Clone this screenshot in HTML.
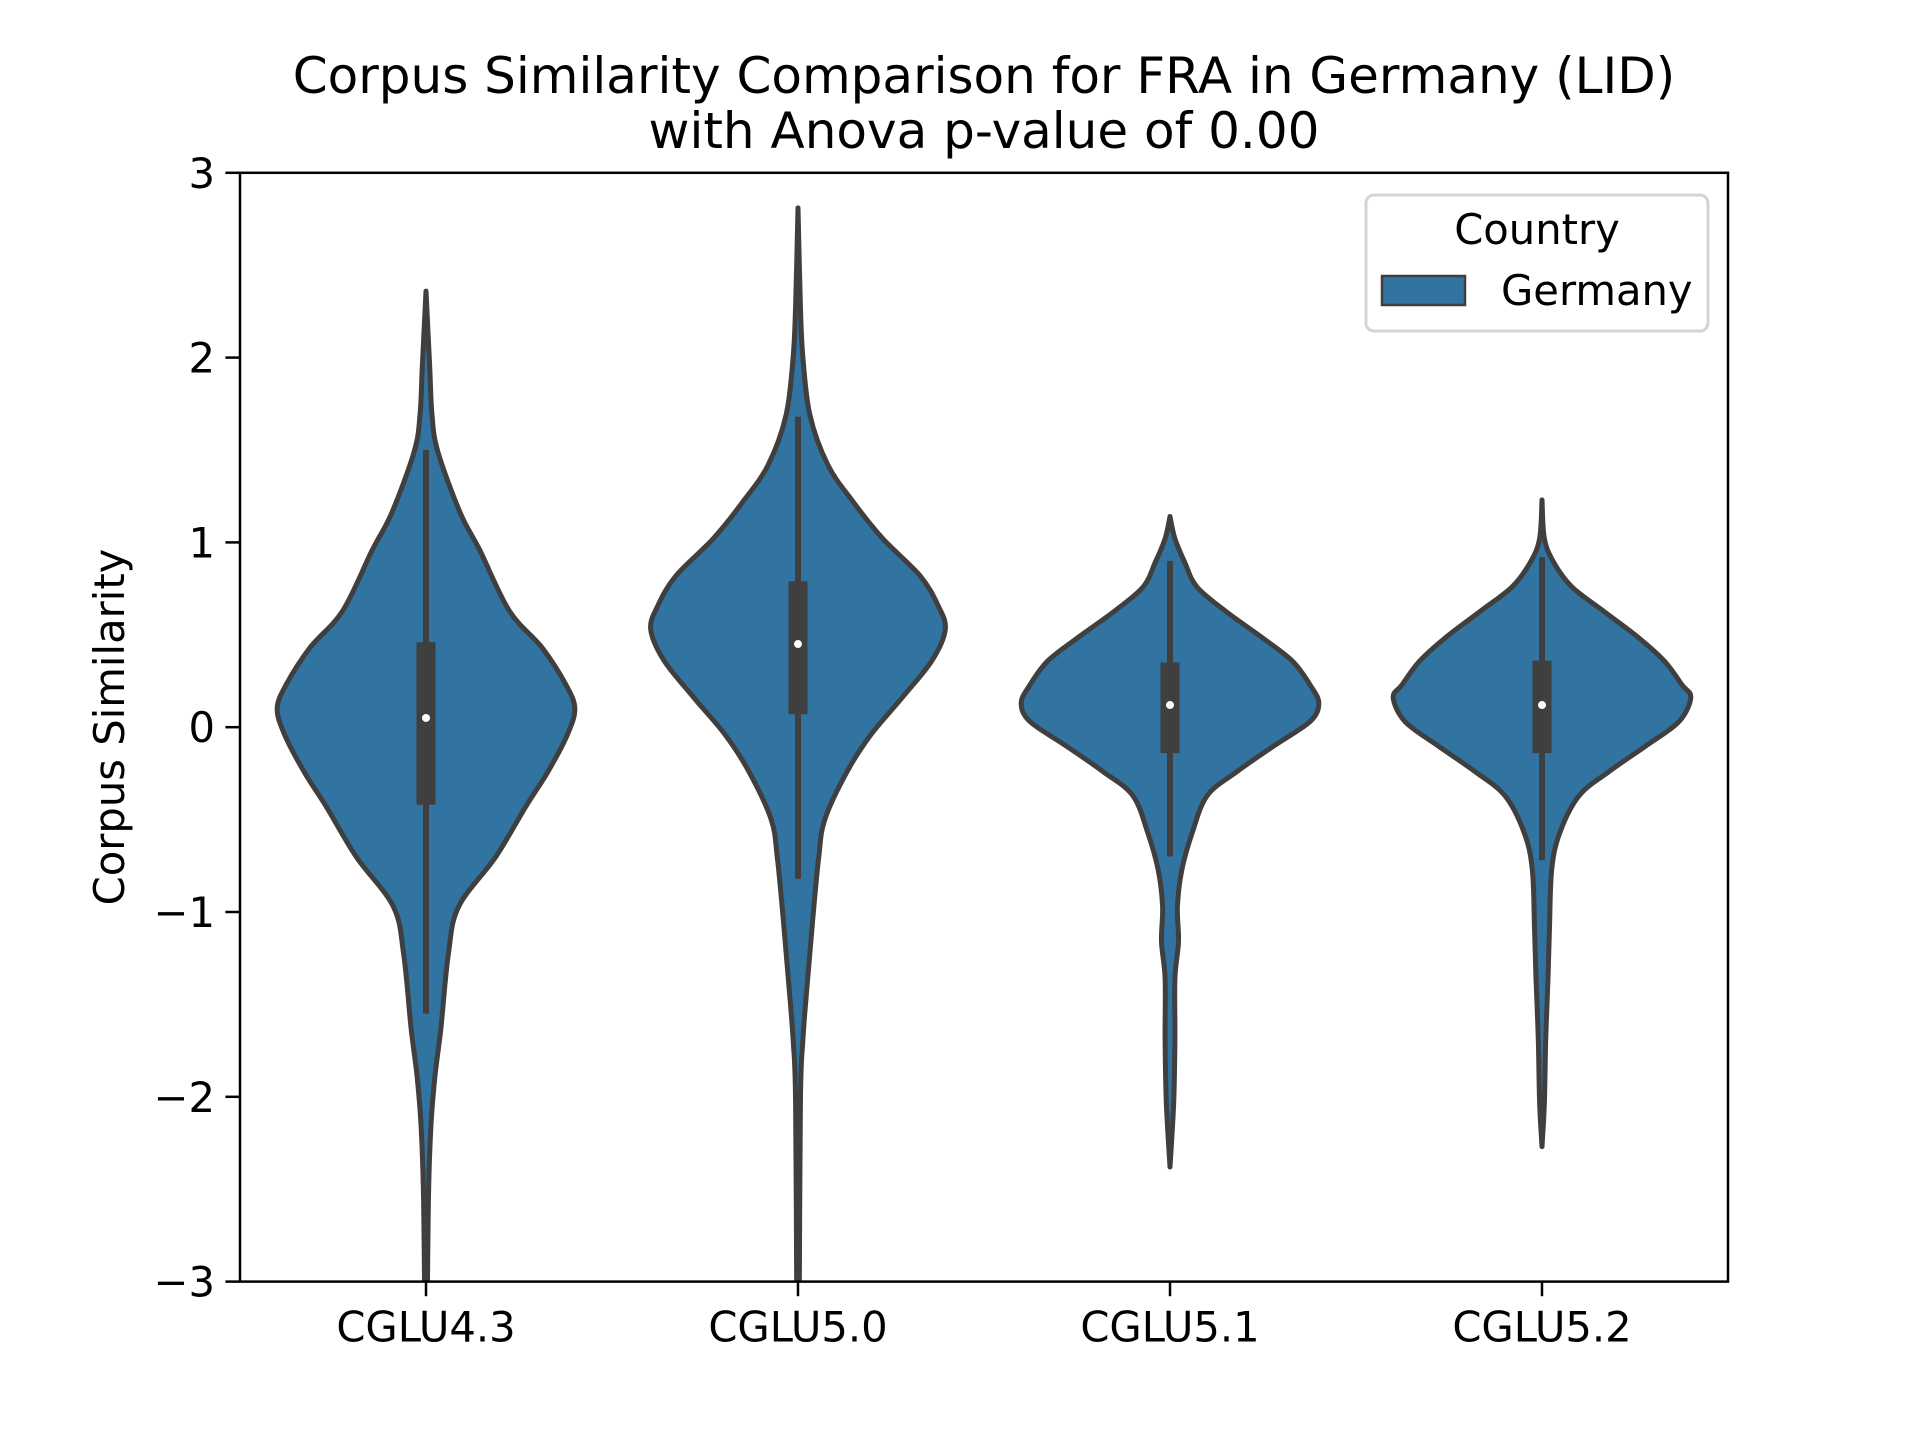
<!DOCTYPE html>
<html><head><meta charset="utf-8"><style>
html,body{margin:0;padding:0;background:#fff;}
svg{display:block;font-family:"DejaVu Sans","Liberation Sans",sans-serif;}
</style></head><body>
<svg id="chart" width="1920" height="1440" viewBox="0 0 1920 1440" xmlns="http://www.w3.org/2000/svg">
<rect width="1920" height="1440" fill="#fff"/>
<text x="984" y="93" font-size="50" text-anchor="middle">Corpus Similarity Comparison for FRA in Germany (LID)</text>
<text x="984" y="148" font-size="50" text-anchor="middle">with Anova p-value of 0.00</text>
<g id="plot"></g>
<g id="axes"></g>
<text transform="translate(124,727) rotate(-90)" font-size="41.7" text-anchor="middle">Corpus Similarity</text>
<g>
<rect x="1366" y="195" width="342" height="136" rx="8" fill="#fff" fill-opacity="0.8" stroke="#d4d4d4" stroke-width="3"/>
<text x="1537" y="244" font-size="41.7" text-anchor="middle">Country</text>
<rect x="1382" y="276" width="83" height="29" fill="#3274a1" stroke="#3f3f3f" stroke-width="2.5"/>
<text x="1501" y="305" font-size="41.7">Germany</text>
</g>
</svg>
<script>
const categories = ["CGLU4.3","CGLU5.0","CGLU5.1","CGLU5.2"];
const yTicks = [-3,-2,-1,0,1,2,3];
const yTickLabels = ["\u22123","\u22122","\u22121","0","1","2","3"];
// density profiles: value levels and relative half-widths (0..1)
const v0Levels = [2.36,1.95,1.69,1.49,1.16,0.96,0.63,0.43,0.23,0.10,-0.04,-0.24,-0.43,-0.70,-0.97,-1.23,-1.63,-1.89,-2.16,-2.56,-3.2];
const v0Width  = [0,0.025,0.04,0.08,0.23,0.36,0.56,0.78,0.94,1.0,0.95,0.82,0.67,0.47,0.22,0.15,0.1,0.06,0.033,0.016,0.008];
const v1Levels = [2.81,2.28,2.0,1.69,1.42,1.22,1.02,0.82,0.66,0.53,0.36,0.16,-0.04,-0.24,-0.50,-0.70,-1.03,-1.36,-1.69,-2.03,-3.2];
const v1Width  = [0,0.016,0.033,0.08,0.2,0.37,0.57,0.82,0.94,0.99,0.9,0.7,0.49,0.33,0.18,0.14,0.1,0.065,0.033,0.016,0.008];
const v2Levels = [1.14,1.02,0.89,0.76,0.63,0.49,0.36,0.23,0.13,0.03,-0.10,-0.24,-0.37,-0.57,-0.77,-0.97,-1.16,-1.36,-1.69,-2.03,-2.38];
const v2Width  = [0,0.033,0.1,0.18,0.37,0.61,0.82,0.94,1.0,0.94,0.7,0.45,0.25,0.15,0.08,0.05,0.057,0.033,0.033,0.025,0];
const v3Levels = [1.23,1.02,0.89,0.76,0.63,0.49,0.36,0.23,0.16,0.03,-0.10,-0.24,-0.37,-0.57,-0.77,-1.10,-1.36,-1.69,-2.03,-2.27];
const v3Width  = [0,0.016,0.08,0.2,0.41,0.64,0.82,0.94,1.0,0.92,0.7,0.45,0.25,0.12,0.065,0.05,0.04,0.025,0.016,0];
const q1 = [-0.42,0.07,-0.14,-0.14];
const q3 = [0.46,0.79,0.35,0.36];
const medians = [0.05,0.45,0.12,0.12];
const whiskLo = [-1.55,-0.82,-0.70,-0.72];
const whiskHi = [1.50,1.68,0.90,0.92];

const L=240,R=1728,T=172.8,B=1281.6;
const NS="http://www.w3.org/2000/svg";
const xScale = i => L + (i+0.5)*(R-L)/categories.length;
const yScale = v => B - (v+3)*(B-T)/6;
const maxHalf = 0.4*(R-L)/categories.length;
const plot=document.getElementById('plot'), axes=document.getElementById('axes');
function mk(tag, attrs, parent){const e=document.createElementNS(NS,tag);for(const k in attrs)e.setAttribute(k,attrs[k]);parent.appendChild(e);return e;}
const clip=mk('clipPath',{id:'clipAx'},plot);
mk('rect',{x:L,y:T,width:R-L,height:B-T},clip);
const g=mk('g',{'clip-path':'url(#clipAx)'},plot);
function smooth(pts){let d='M'+pts[0][0]+','+pts[0][1];
 for(let i=0;i<pts.length-1;i++){const p0=pts[i-1]||pts[i],p1=pts[i],p2=pts[i+1],p3=pts[i+2]||p2;
  const c1=[p1[0]+(p2[0]-p0[0])/6,p1[1]+(p2[1]-p0[1])/6],c2=[p2[0]-(p3[0]-p1[0])/6,p2[1]-(p3[1]-p1[1])/6];
  d+='C'+c1[0].toFixed(1)+','+c1[1].toFixed(1)+' '+c2[0].toFixed(1)+','+c2[1].toFixed(1)+' '+p2[0].toFixed(1)+','+p2[1].toFixed(1);}
 return d;}
const levels=[v0Levels,v1Levels,v2Levels,v3Levels], widths=[v0Width,v1Width,v2Width,v3Width];
categories.forEach((c,i)=>{
 const cx=xScale(i);
 const right=levels[i].map((v,k)=>[cx+widths[i][k]*maxHalf,yScale(v)]);
 const left=levels[i].map((v,k)=>[cx-widths[i][k]*maxHalf,yScale(v)]).reverse();
 const d=smooth(right)+'L'+smooth(left).slice(1)+'Z';
 const p=mk('path',{d:d,fill:'#3274a1',stroke:'#3f3f3f','stroke-width':5,'stroke-linejoin':'round'},g);
 
 
 const w=mk('line',{x1:cx,x2:cx,y1:yScale(whiskLo[i]),y2:yScale(whiskHi[i]),stroke:'#3f3f3f','stroke-width':6},g);
 
 
 const b=mk('rect',{x:cx-9.5,y:yScale(q3[i]),width:19,height:yScale(q1[i])-yScale(q3[i]),fill:'#3f3f3f'},g);
 
 
 const m=mk('circle',{cx:cx,cy:yScale(medians[i]),r:4,fill:'#fff'},g);
 
 
 const t=mk('line',{x1:cx,x2:cx,y1:B,y2:B+14.6,stroke:'#000','stroke-width':2.5},axes);
 
 
 const tl=mk('text',{x:cx,y:B+60,'font-size':41.7,'text-anchor':'middle'},axes);
 tl.textContent=c;
 
 
});
yTicks.forEach((v,k)=>{
 const y=yScale(v);
 const t=mk('line',{x1:L-14.6,x2:L,y1:y,y2:y,stroke:'#000','stroke-width':2.5},axes);
 
 
 const tl=mk('text',{x:L-25,y:y+15,'font-size':41.7,'text-anchor':'end'},axes);
 tl.textContent=yTickLabels[k];
 
 
});
const frame=mk('rect',{x:L,y:T,width:R-L,height:B-T,fill:'none',stroke:'#000','stroke-width':2.5},axes);


</script>
</body></html>
